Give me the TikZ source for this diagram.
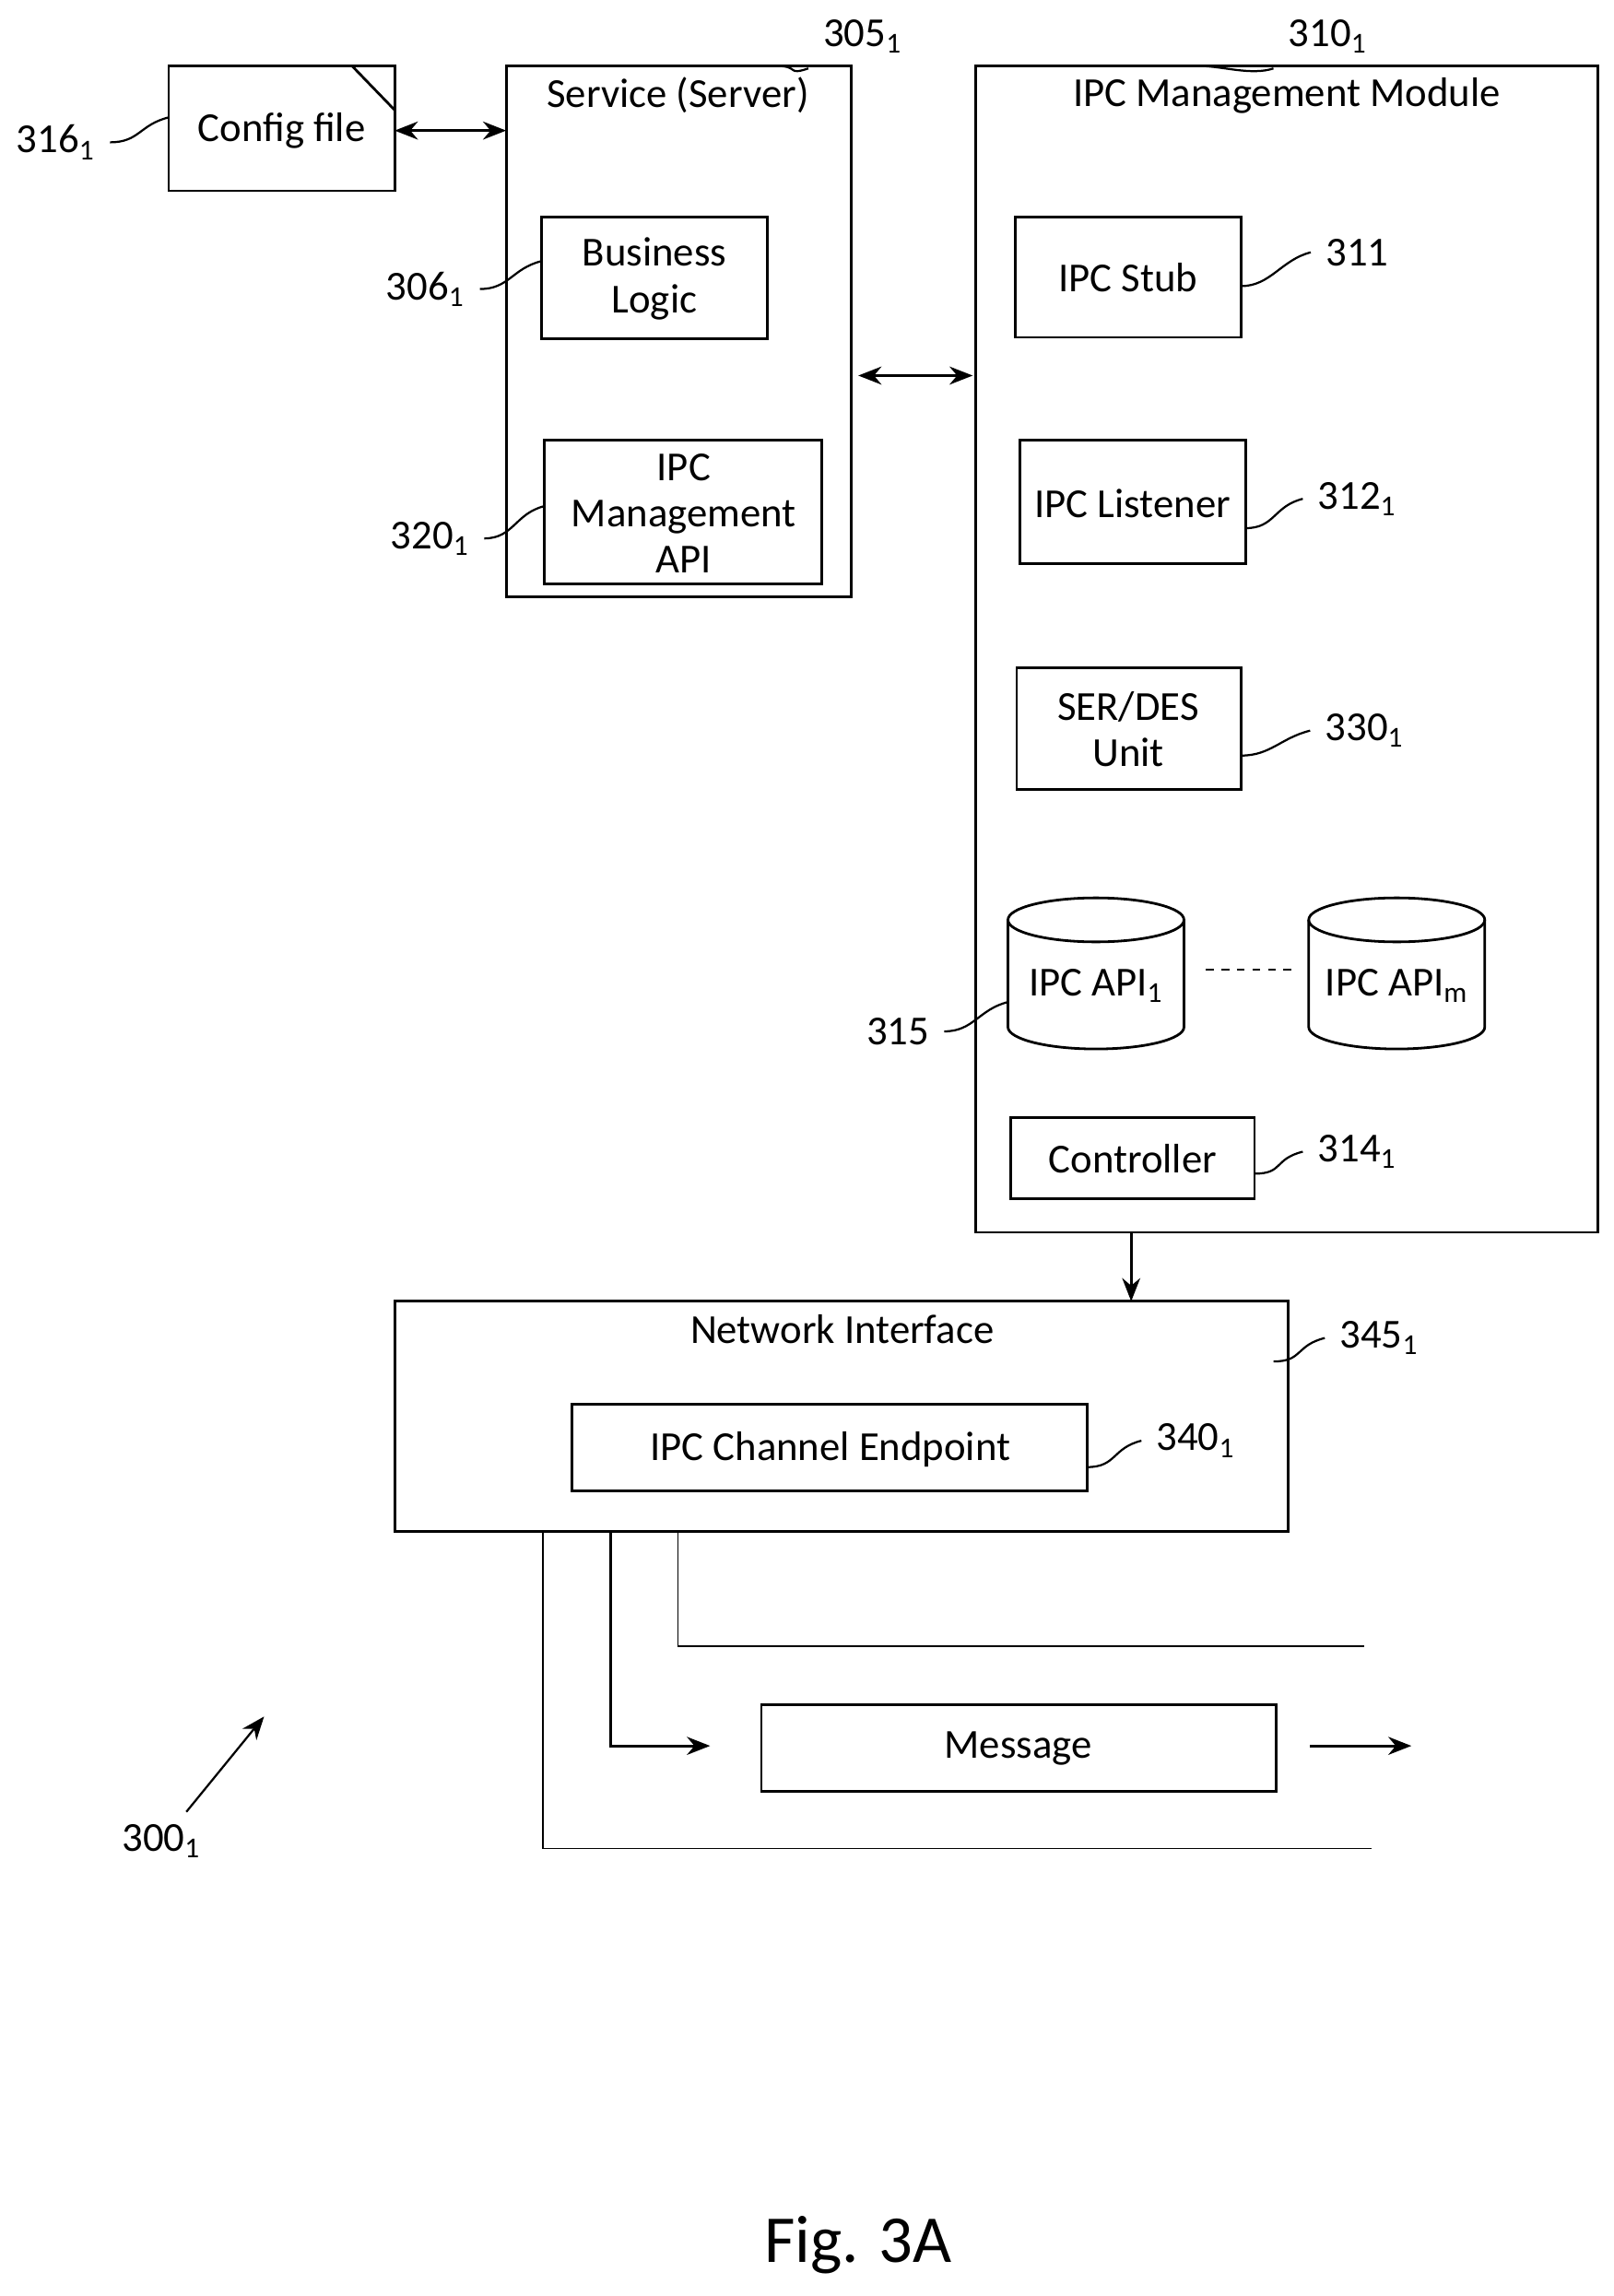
\documentclass[tikz,border=0pt]{standalone}
\usepackage{fontspec}
\setmainfont{Carlito}
\usetikzlibrary{arrows.meta}
\begin{document}
\begin{tikzpicture}[x=0.02cm,y=-0.02cm,line width=1pt,
  box/.style={draw,inner sep=0pt},
  lab/.style={font=\fontsize{16}{18}\selectfont},
  txt/.style={font=\fontsize{16}{20}\selectfont,align=center},
  sq/.style={line width=0.8pt},
  arr/.style={-{Stealth[length=9pt,width=7pt]}},
  darr/.style={{Stealth[length=9pt,width=7pt]}-{Stealth[length=9pt,width=7pt]}}]
\useasboundingbox (0,0) rectangle (1100,1565);
\fontsize{16}{20}\selectfont
% Config file
\draw (115,45) rectangle (269,130);
\draw (240,45) -- (269,75);
\node[txt] (cfg) at (192,89) {Config file};
\node[lab] (l316) at (38,97) {316\textsubscript{1}};
\draw[sq] (l316.east) .. controls +(20,0) and +(-20,5) .. (115,80);
% Service
\draw (345,45) rectangle (580,407);
\node[txt] (svc) at (462,65) {Service (Server)};
\node[lab] (l305) at (588,25) {305\textsubscript{1}};
\draw[sq] (530,45) .. controls +(15,0) and +(-15,5) .. (l305.south west);
\draw[darr] (269,89) -- (345,89);
\draw (369,148) rectangle (523,231);
\node[txt] (bl) at (446,190) {Business\\[-2pt]Logic};
\node[lab] (l306) at (290,197) {306\textsubscript{1}};
\draw[sq] (l306.east) .. controls +(20,0) and +(-20,5) .. (369,178);
\draw (371,300) rectangle (560,398);
\node[txt] (api) at (466,350) {IPC\\[-2pt]Management\\[-2pt]API};
\node[lab] (l320) at (293,367) {320\textsubscript{1}};
\draw[sq] (l320.east) .. controls +(20,0) and +(-20,5) .. (371,345);
% IPC Management module
\draw (665,45) rectangle (1089,840);
\node[txt] (imm) at (877,65) {IPC Management Module};
\node[lab] (l310) at (905,25) {310\textsubscript{1}};
\draw[sq] (818,45) .. controls +(15,0) and +(-15,5) .. (l310.south west);
\draw[darr] (585,256) -- (663,256);
\draw (692,148) rectangle (846,230);
\node[txt] (stub) at (769,189) {IPC Stub};
\node[lab] (l311) at (925,172) {311};
\draw[sq] (846,195) .. controls +(20,0) and +(-20,5) .. (l311.west);
\draw (695,300) rectangle (849,384);
\node[txt] (lst) at (772,343) {IPC Listener};
\node[lab] (l312) at (925,340) {312\textsubscript{1}};
\draw[sq] (849,360) .. controls +(20,0) and +(-20,5) .. (l312.west);
\draw (693,455) rectangle (846,538);
\node[txt] (ser) at (769,497) {SER/DES\\[-2pt]Unit};
\node[lab] (l330) at (930,498) {330\textsubscript{1}};
\draw[sq] (846,515) .. controls +(20,0) and +(-20,5) .. (l330.west);
% cylinders
\foreach \cx in {747,952}{
  \draw (\cx-60,627) -- (\cx-60,700) arc[start angle=180,end angle=360,x radius=60,y radius=-15] -- (\cx+60,627);
  \draw (\cx,627) ellipse[x radius=60,y radius=15];
}
\node[txt] (api1) at (747,672) {IPC API\textsubscript{1}};
\node[txt] (apim) at (952,672) {IPC API\textsubscript{m}};
\draw[dashed,line width=0.6pt] (822,661) -- (880,661);
\node[lab] (l315) at (612,703) {315};
\draw[sq] (l315.east) .. controls +(20,0) and +(-20,5) .. (687,683);
\draw (689,762) rectangle (855,817);
\node[txt] (ctl) at (772,790) {Controller};
\node[lab] (l314) at (925,785) {314\textsubscript{1}};
\draw[sq] (855,800) .. controls +(20,0) and +(-20,5) .. (l314.west);
\draw[arr] (771,840) -- (771,887);
% Network interface
\draw (269,887) rectangle (878,1044);
\node[txt] (ni) at (574,906) {Network Interface};
\node[lab] (l345) at (940,912) {345\textsubscript{1}};
\draw[sq] (868,928) .. controls +(20,0) and +(-20,5) .. (l345.west);
\draw (390,957) rectangle (741,1016);
\node[txt] (ep) at (566,988) {IPC Channel Endpoint};
\node[lab] (l340) at (815,982) {340\textsubscript{1}};
\draw[sq] (741,1000) .. controls +(20,0) and +(-20,5) .. (l340.west);
% channel
\draw[line width=0.6pt] (370,1044) -- (370,1260) -- (935,1260);
\draw[line width=0.6pt] (462,1044) -- (462,1122) -- (930,1122);
\draw[arr] (416,1044) -- (416,1190) -- (484,1190);
\draw (519,1162) rectangle (870,1221);
\node[txt] (msg) at (694,1192) {Message};
\draw[arr] (893,1190) -- (962,1190);
\node[lab] (l300) at (110,1255) {300\textsubscript{1}};
\draw[arr,line width=0.8pt] (127,1235) -- (180,1170);
\node[font=\fontsize{26}{30}\selectfont] (fig) at (585,1530) {Fig. 3A};
\end{tikzpicture}
\end{document}
